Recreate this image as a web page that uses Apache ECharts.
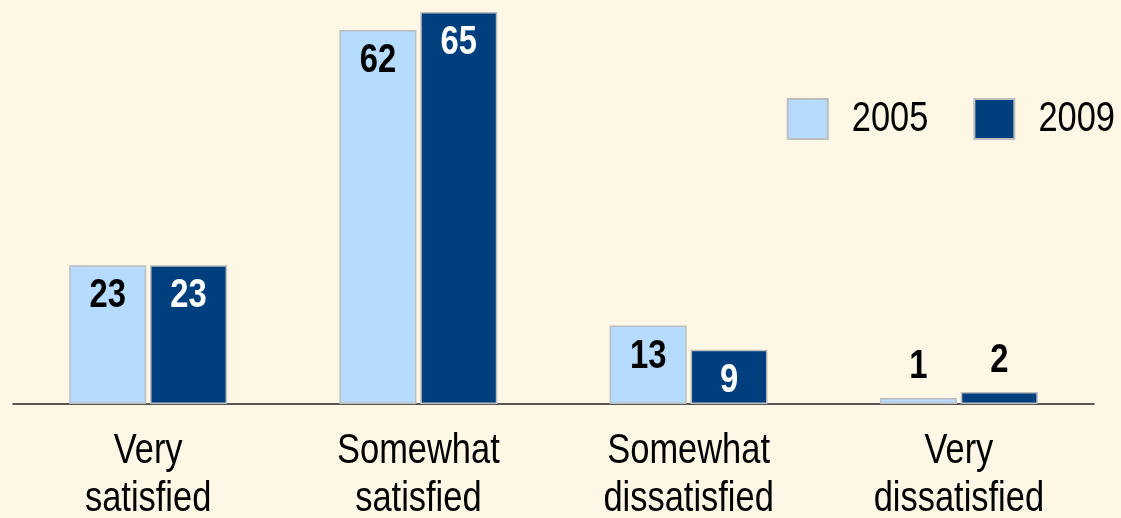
<!DOCTYPE html>
<html>
<head>
<meta charset="utf-8">
<script src="https://cdn.jsdelivr.net/npm/echarts@6/dist/echarts.min.js"></script>
<style>
html,body{margin:0;padding:0;background:#FEF7E6;overflow:hidden;}
#chart{width:1121px;height:518px;}
</style>
</head>
<body>
<div id="chart"></div>
<script>
const categories = ['Very\nsatisfied', 'Somewhat\nsatisfied', 'Somewhat\ndissatisfied', 'Very\ndissatisfied'];
const seriesNames = ['2005', '2009'];
const values2005 = [23, 62, 13, 1];
const values2009 = [23, 65, 9, 2];

// The reference uses a narrow (Arial Narrow-like) face that is not installed;
// condense the installed Liberation Sans glyphs horizontally to mimic it.
(function () {
  const SX = 0.82;
  const P = CanvasRenderingContext2D.prototype;
  const origFill = P.fillText, origStroke = P.strokeText, origMeasure = P.measureText;
  P.fillText = function (t, x, y, m) {
    this.save(); this.translate(x, y); this.scale(SX, 1);
    origFill.call(this, t, 0, 0); this.restore();
  };
  P.strokeText = function (t, x, y, m) {
    this.save(); this.translate(x, y); this.scale(SX, 1);
    origStroke.call(this, t, 0, 0); this.restore();
  };
  P.measureText = function (t) {
    const r = origMeasure.call(this, t);
    return {
      width: r.width * SX,
      actualBoundingBoxLeft: r.actualBoundingBoxLeft * SX,
      actualBoundingBoxRight: r.actualBoundingBoxRight * SX,
      actualBoundingBoxAscent: r.actualBoundingBoxAscent,
      actualBoundingBoxDescent: r.actualBoundingBoxDescent,
      fontBoundingBoxAscent: r.fontBoundingBoxAscent,
      fontBoundingBoxDescent: r.fontBoundingBoxDescent
    };
  };
})();

const FONT = "'Liberation Sans', Arial, sans-serif";
const LIGHT = '#B5DBFE';
const DARK = '#003F7E';
const SMALL = 5;

function makeData(vals) {
  return vals.map(v => v < SMALL
    ? { value: v, label: { position: 'top', color: '#000' } }
    : v);
}

const chart = echarts.init(document.getElementById('chart'), null, { renderer: 'canvas' });
chart.setOption({
  backgroundColor: '#FEF7E6',
  animation: false,
  textStyle: { fontFamily: FONT },
  legend: {
    orient: 'horizontal',
    right: 1, top: 93,
    itemWidth: 40, itemHeight: 40, itemGap: 45,
    icon: 'rect',
    textStyle: { fontFamily: FONT, fontSize: 42, color: '#000', padding: [0, 0, 0, 19] },
    data: seriesNames
  },
  grid: { left: 13, right: 27, top: 12, bottom: 114, containLabel: false, outerBoundsMode: 'none' },
  xAxis: {
    type: 'category',
    data: categories,
    axisLine: { lineStyle: { color: '#222', width: 1.5 } },
    axisTick: { show: false },
    axisLabel: { fontFamily: FONT, fontSize: 42, lineHeight: 48, color: '#000', margin: 23, interval: 0 }
  },
  yAxis: { type: 'value', min: 0, max: 65, show: false, splitLine: { show: false } },
  series: [
    {
      name: seriesNames[0], type: 'bar', data: makeData(values2005),
      barWidth: 77, barGap: '5%',
      itemStyle: { color: LIGHT, borderColor: '#BDBDBD', borderWidth: 1.5 },
      label: { show: true, position: 'insideTop', distance: 11, fontFamily: FONT, fontSize: 40, lineHeight: 40, fontWeight: 'bold', color: '#000' }
    },
    {
      name: seriesNames[1], type: 'bar', data: makeData(values2009),
      barWidth: 77,
      itemStyle: { color: DARK, borderColor: '#BDBDBD', borderWidth: 1.5 },
      label: { show: true, position: 'insideTop', distance: 11, fontFamily: FONT, fontSize: 40, lineHeight: 40, fontWeight: 'bold', color: '#fff' }
    }
  ]
});
</script>
</body>
</html>
